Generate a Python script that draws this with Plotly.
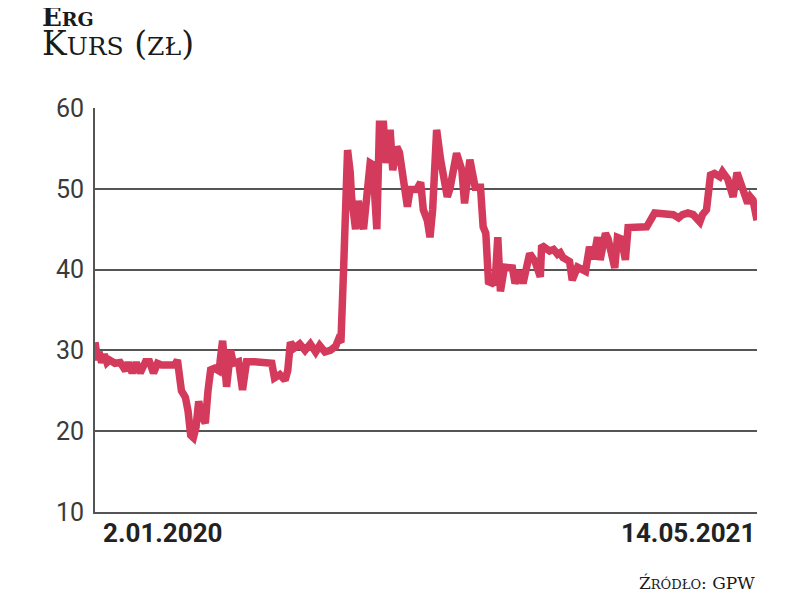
import plotly.graph_objects as go

# ---- data ----
dates = [
    "2020-01-02", "2020-01-04", "2020-01-05", "2020-01-07", "2020-01-09", "2020-01-11",
    "2020-01-13", "2020-01-17", "2020-01-21", "2020-01-25", "2020-01-27", "2020-01-30",
    "2020-02-02", "2020-02-05", "2020-02-09", "2020-02-12", "2020-02-15", "2020-02-18",
    "2020-02-21", "2020-02-27", "2020-03-02", "2020-03-04", "2020-03-06", "2020-03-07",
    "2020-03-10", "2020-03-12", "2020-03-14", "2020-03-16", "2020-03-18", "2020-03-20",
    "2020-03-22", "2020-03-25", "2020-03-27", "2020-03-29", "2020-04-01", "2020-04-04",
    "2020-04-05", "2020-04-07", "2020-04-10", "2020-04-13", "2020-04-15", "2020-04-19",
    "2020-04-22", "2020-04-25", "2020-05-01", "2020-05-09", "2020-05-14", "2020-05-16",
    "2020-05-20", "2020-05-24", "2020-05-26", "2020-05-28", "2020-05-31", "2020-06-04",
    "2020-06-08", "2020-06-12", "2020-06-16", "2020-06-19", "2020-06-23", "2020-06-27",
    "2020-07-01", "2020-07-03", "2020-07-05", "2020-07-07", "2020-07-10", "2020-07-12",
    "2020-07-13", "2020-07-16", "2020-07-18", "2020-07-22", "2020-07-27", "2020-07-29",
    "2020-08-01", "2020-08-03", "2020-08-06", "2020-08-08", "2020-08-11", "2020-08-13",
    "2020-08-16", "2020-08-18", "2020-08-21", "2020-08-24", "2020-08-26", "2020-08-31",
    "2020-09-03", "2020-09-05", "2020-09-08", "2020-09-10", "2020-09-12", "2020-09-15",
    "2020-09-18", "2020-09-23", "2020-09-25", "2020-09-30", "2020-10-04", "2020-10-06",
    "2020-10-10", "2020-10-14", "2020-10-18", "2020-10-20", "2020-10-22", "2020-10-24",
    "2020-10-27", "2020-10-29", "2020-10-31", "2020-11-02", "2020-11-05", "2020-11-11",
    "2020-11-13", "2020-11-17", "2020-11-19", "2020-11-24", "2020-11-28", "2020-12-02",
    "2020-12-03", "2020-12-06", "2020-12-09", "2020-12-12", "2020-12-15", "2020-12-17",
    "2020-12-19", "2020-12-22", "2020-12-24", "2020-12-26",
    "2020-12-30", "2021-01-05", "2021-01-08", "2021-01-11", "2021-01-14", "2021-01-16",
    "2021-01-20", "2021-01-22", "2021-01-25", "2021-01-27", "2021-01-29", "2021-02-01",
    "2021-02-04", "2021-02-06", "2021-02-20", "2021-02-23", "2021-02-26", "2021-03-12",
    "2021-03-16", "2021-03-19", "2021-03-23", "2021-03-27", "2021-04-01", "2021-04-03",
    "2021-04-06", "2021-04-09", "2021-04-12", "2021-04-16", "2021-04-18", "2021-04-22",
    "2021-04-26", "2021-04-29", "2021-05-01", "2021-05-04", "2021-05-07", "2021-05-09",
    "2021-05-11", "2021-05-14",
]
prices = [
    31.0, 28.8, 29.8, 28.5, 29.5, 28.5,
    28.8, 28.4, 28.5, 27.5, 28.5, 27.2,
    28.5, 27.2, 28.6, 28.6, 27.2, 28.4,
    28.2, 28.2, 28.2, 28.8, 26.5, 25.0,
    24.2, 22.5, 19.5, 19.2, 20.5, 23.7,
    22.0, 21.0, 25.0, 27.6, 27.8, 27.5,
    28.5, 31.2, 25.5, 30.0, 28.4, 28.6,
    25.1, 28.6, 28.6, 28.6, 28.4, 26.6,
    27.0, 26.3, 27.5, 31.0, 30.3, 30.8,
    30.0, 30.8, 29.8, 30.6, 29.8, 30.0,
    30.5, 31.3, 31.0, 40.0, 54.8, 52.0,
    49.0, 45.0, 48.5, 45.0, 53.2, 53.0,
    45.0, 58.0, 58.0, 53.2, 57.3, 52.3,
    55.2, 54.5, 51.5, 47.8, 49.9, 49.9,
    50.8, 47.4, 46.1, 44.0, 47.4, 57.3,
    53.6, 49.0, 50.0, 54.4, 52.3, 48.2,
    53.6, 50.2, 50.2, 45.3, 44.5, 38.5,
    38.3, 38.5, 44.0, 37.3, 40.3, 40.2,
    38.3, 39.8, 38.3, 42.0, 41.0, 39.1,
    43.0, 42.6, 42.3, 42.5, 41.9, 42.1,
    41.5, 41.2, 41.0, 38.7,
    40.3, 39.8, 42.8, 41.3, 44.0, 41.2,
    44.5, 43.8, 40.8, 40.2, 44.0, 43.8,
    41.2, 45.2, 45.3, 46.1, 47.0, 46.8,
    46.4, 46.8, 47.0, 46.8, 45.9, 46.8,
    47.4, 51.7, 51.9, 51.5, 52.1, 51.2,
    49.0, 52.0, 51.0, 50.2, 48.2, 49.0,
    48.6, 46.1,
]
y_ticks = [10, 20, 30, 40, 50, 60]
x_labels = ["2.01.2020", "14.05.2021"]
x_label_dates = ["2020-01-02", "2021-05-14"]

LINE = "#d43a5c"
GRID = "#555555"
SERIF = "DejaVu Serif, Liberation Serif, serif"
SANS = "Roboto, Liberation Sans, sans-serif"

fig = go.Figure()
fig.add_trace(go.Scatter(
    x=dates, y=prices, mode="lines",
    line=dict(color=LINE, width=7.5),
    hoverinfo="skip", showlegend=False,
))

fig.update_layout(
    width=812, height=593,
    margin=dict(l=87, r=63, t=100, b=89),
    paper_bgcolor="white", plot_bgcolor="white",
    xaxis=dict(
        type="date", range=[x_label_dates[0], x_label_dates[1]],
        showgrid=False, zeroline=False, showticklabels=False, ticks="",
        showline=True, linecolor=GRID, linewidth=2,
    ),
    yaxis=dict(
        range=[10, 60], tickvals=y_ticks, ticktext=[str(v) for v in y_ticks],
        showgrid=True, gridcolor=GRID, gridwidth=1.5, zeroline=False,
        showline=True, linecolor=GRID, linewidth=2, ticks="",
        tickfont=dict(family=SANS, size=25, color="#3a3a3a"),
        ticklabelstandoff=4,
    ),
)

annotations = [
    dict(text="<b>E<span style='font-size:19px'>RG</span></b>",
         xref="paper", yref="paper", x=-0.083, y=1.184, xanchor="left", yanchor="bottom",
         showarrow=False, font=dict(family=SERIF, size=26, color="#1a1a1a")),
    dict(text="K<span style='font-size:25px'>URS</span> (<span style='font-size:25px'>ZŁ</span>)",
         xref="paper", yref="paper", x=-0.083, y=1.106, xanchor="left", yanchor="bottom",
         showarrow=False, font=dict(family=SERIF, size=33, color="#1a1a1a")),
    dict(text="Ź<span style='font-size:13px'>RÓDŁO</span>: GPW",
         xref="paper", yref="paper", x=1.0, y=-0.146, xanchor="right", yanchor="top",
         showarrow=False, font=dict(family=SERIF, size=17, color="#1a1a1a")),
    dict(text="<b>%s</b>" % x_labels[0], xref="x", yref="paper", x=x_label_dates[0], y=0,
         xanchor="left", yanchor="top", xshift=6, yshift=-4, showarrow=False,
         font=dict(family=SANS, size=26, color="#222222")),
    dict(text="<b>%s</b>" % x_labels[1], xref="x", yref="paper", x=x_label_dates[1], y=0,
         xanchor="right", yanchor="top", yshift=-4, showarrow=False,
         font=dict(family=SANS, size=26, color="#222222")),
]
fig.update_layout(annotations=annotations)

fig.write_html("out.html")
